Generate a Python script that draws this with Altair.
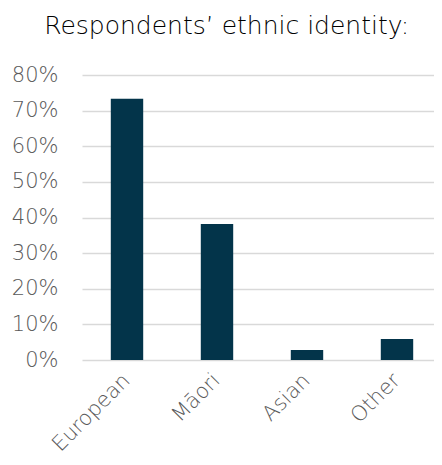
import altair as alt
import pandas as pd

categories = ["European", "Māori", "Asian", "Other"]
values = [0.733, 0.382, 0.028, 0.059]

df = pd.DataFrame({"ethnicity": categories, "share": values})

FONT = "DejaVu Sans"

chart = alt.Chart(df).mark_bar(color="#03344A").encode(
    x=alt.X("ethnicity:N", sort=categories, title=None,
            scale=alt.Scale(range=[0, 360], paddingInner=0.64, paddingOuter=0.32),
            axis=alt.Axis(labelAngle=-45, labelAlign="right", labelBaseline="middle",
                          labelPadding=17, labelFontSize=21, labelFont=FONT,
                          labelFontWeight=200, labelColor="#595959",
                          domain=False, ticks=False, grid=False)),
    y=alt.Y("share:Q", title=None,
            scale=alt.Scale(domain=[0, 0.8], nice=False),
            axis=alt.Axis(format=".0%", values=[0, 0.1, 0.2, 0.3, 0.4, 0.5, 0.6, 0.7, 0.8],
                          labelFontSize=21, labelFont=FONT, labelFontWeight=200,
                          labelColor="#595959", labelPadding=24,
                          domain=False, ticks=False, grid=True,
                          gridColor="#D9D9D9", gridWidth=1.5)),
).properties(
    width=352, height=285,
    autosize=alt.AutoSizeParams(type="none"),
    padding={"left": 74, "top": 67, "right": 0, "bottom": 97},
    title=alt.TitleParams("Respondents’ ethnic identity:", anchor="middle", frame="bounds",
                          font=FONT, fontSize=25, fontWeight=200, color="#000000",
                          offset=25),
).configure_view(stroke=None)

chart.save("out.html", embed_options={"renderer": "svg", "actions": False})
